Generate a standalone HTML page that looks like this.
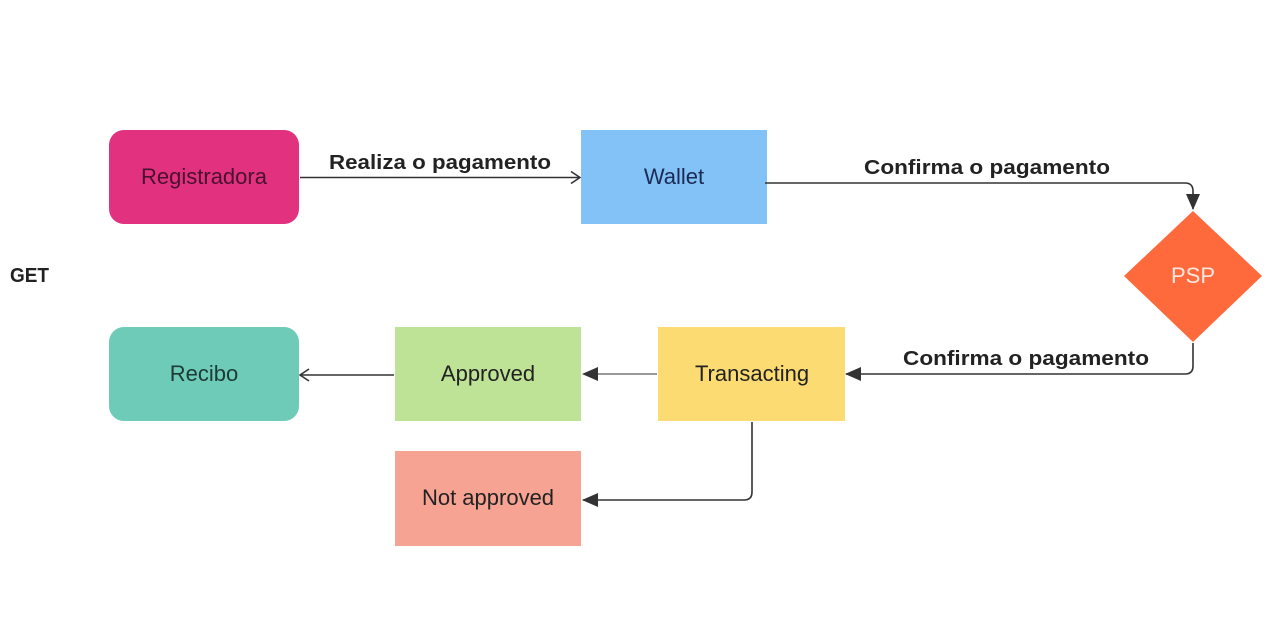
<!DOCTYPE html>
<html><head><meta charset="utf-8"><style>
html,body{margin:0;padding:0;background:#fff;width:1268px;height:627px;overflow:hidden}
</style></head><body>
<svg width="1268" height="627" viewBox="0 0 1268 627" xmlns="http://www.w3.org/2000/svg">
<defs>
<marker id="fb" markerWidth="16" markerHeight="16" refX="15" refY="8" orient="auto" markerUnits="userSpaceOnUse" viewBox="0 0 16 16"><path d="M0,1 L16,8 L0,15 z" fill="#333"/></marker>
<marker id="oa" markerWidth="12" markerHeight="14" refX="11" refY="7" orient="auto" markerUnits="userSpaceOnUse" viewBox="0 0 12 14"><path d="M2,1 L11,7 L2,13" fill="none" stroke="#333" stroke-width="1.6"/></marker>
</defs>
<g font-family="Liberation Sans, sans-serif" font-size="22" text-anchor="middle">
<rect x="109" y="130" width="190" height="94" rx="15" fill="#E2327F"/>
<text x="204" y="184" fill="#4a1030">Registradora</text>
<rect x="581" y="130" width="186" height="94" fill="#83C2F7"/>
<text x="674" y="184" fill="#1a2a55">Wallet</text>
<polygon points="1193,211 1262,276 1193,342 1124,276" fill="#FF6A3D"/>
<text x="1193" y="283" fill="#fde8df">PSP</text>
<rect x="658" y="327" width="187" height="94" fill="#FBDB72"/>
<text x="752" y="381" fill="#222">Transacting</text>
<rect x="395" y="327" width="186" height="94" fill="#BEE396"/>
<text x="488" y="381" fill="#222">Approved</text>
<rect x="109" y="327" width="190" height="94" rx="15" fill="#6ECBB8"/>
<text x="204" y="381" fill="#1d3a35">Recibo</text>
<rect x="395" y="451" width="186" height="95" fill="#F7A393"/>
<text x="488" y="505" fill="#222">Not approved</text>
</g>
<g fill="none" stroke="#333" stroke-width="1.6">
<line x1="300" y1="177.5" x2="580" y2="177.5" marker-end="url(#oa)"/>
<path d="M765,183 H1185 Q1193,183 1193,191 V209" marker-end="url(#fb)"/>
<path d="M1193,343 V366 Q1193,374 1185,374 H846" marker-end="url(#fb)"/>
<line x1="657" y1="374" x2="583" y2="374" stroke-width="1" marker-end="url(#fb)"/>
<line x1="394" y1="375" x2="300" y2="375" marker-end="url(#oa)"/>
<path d="M752,422 V492 Q752,500 744,500 H583" marker-end="url(#fb)"/>
</g>
<g font-family="Liberation Sans, sans-serif" font-weight="bold" font-size="20" fill="#222">
<text x="329" y="169" textLength="222" lengthAdjust="spacingAndGlyphs">Realiza o pagamento</text>
<text x="864" y="174" textLength="246" lengthAdjust="spacingAndGlyphs">Confirma o pagamento</text>
<text x="903" y="365" textLength="246" lengthAdjust="spacingAndGlyphs">Confirma o pagamento</text>
<text x="10" y="282" textLength="39" lengthAdjust="spacingAndGlyphs">GET</text>
</g>
</svg>
</body></html>
